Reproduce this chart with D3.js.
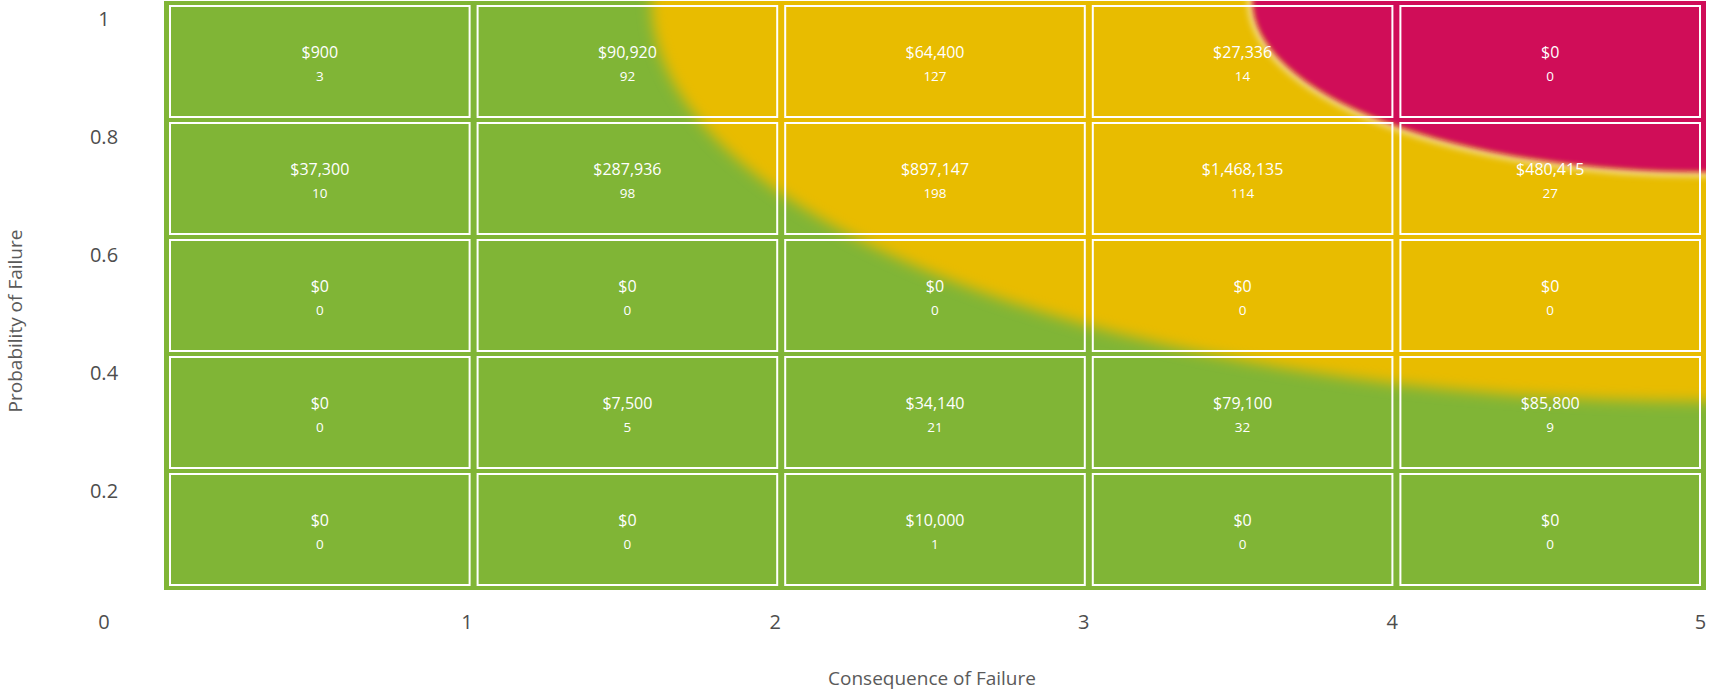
<!DOCTYPE html>
<html>
<head>
<meta charset="utf-8">
<script src="https://cdn.jsdelivr.net/npm/d3@7/dist/d3.min.js"></script>
<style>
  html, body { margin: 0; padding: 0; background: #ffffff; }
  svg { display: block; font-family: "Open Sans", "Noto Sans", sans-serif; }
</style>
</head>
<body>
<script>
// ---------------- DATA ----------------
const consequenceLevels = [1, 2, 3, 4, 5];
const probabilityLevels = [1.0, 0.8, 0.6, 0.4, 0.2];

// replacement cost per cell, rows follow probabilityLevels (top to bottom)
const costProb10 = [900, 90920, 64400, 27336, 0];
const costProb08 = [37300, 287936, 897147, 1468135, 480415];
const costProb06 = [0, 0, 0, 0, 0];
const costProb04 = [0, 7500, 34140, 79100, 85800];
const costProb02 = [0, 0, 10000, 0, 0];

// asset counts per cell
const countProb10 = [3, 92, 127, 14, 0];
const countProb08 = [10, 98, 198, 114, 27];
const countProb06 = [0, 0, 0, 0, 0];
const countProb04 = [0, 5, 21, 32, 9];
const countProb02 = [0, 0, 1, 0, 0];

// axis ticks
const xTickValues = [1, 2, 3, 4, 5];
const yTickValues = [0, 0.2, 0.4, 0.6, 0.8, 1];

// risk zones: elliptical bands anchored at (consequence 5, probability 1)
const zoneNames = ["Medium", "High"];
const zoneRadiusConsequence = [3.42, 1.47];
const zoneRadiusProbability = [0.68, 0.29];

const costRows = [costProb10, costProb08, costProb06, costProb04, costProb02];
const countRows = [countProb10, countProb08, countProb06, countProb04, countProb02];

// ---------------- CHART ----------------
const W = 1709, H = 691;
const colorLow = "#80b536";
const zoneColor = d3.scaleOrdinal().domain(zoneNames).range(["#e8bc00", "#d00d59"]);

const svg = d3.select("body").append("svg").attr("width", W).attr("height", H);

const x = d3.scaleLinear().domain([0, 5]).range([164, 1706]);
const y = d3.scaleLinear().domain([0, 1]).range([590, 1]);
const xBand = d3.scaleBand().domain(consequenceLevels).range([170, 1700]).paddingInner(0.026);
const yBand = d3.scaleBand().domain(probabilityLevels).range([6, 585]).paddingInner(0.0513);

const defs = svg.append("defs");
defs.append("clipPath").attr("id", "plotClip")
  .append("rect")
  .attr("x", x(0)).attr("y", y(1))
  .attr("width", x(5) - x(0)).attr("height", y(0) - y(1));

defs.append("filter").attr("id", "blurMedium")
  .attr("x", "-20%").attr("y", "-20%").attr("width", "140%").attr("height", "140%")
  .append("feGaussianBlur").attr("stdDeviation", 7);
defs.append("filter").attr("id", "blurHigh")
  .attr("x", "-20%").attr("y", "-20%").attr("width", "140%").attr("height", "140%")
  .append("feGaussianBlur").attr("stdDeviation", 2.5);
defs.append("filter").attr("id", "blurHalo")
  .attr("x", "-20%").attr("y", "-20%").attr("width", "140%").attr("height", "140%")
  .append("feGaussianBlur").attr("stdDeviation", 3);

// background
const bg = svg.append("g").attr("clip-path", "url(#plotClip)");
bg.append("rect")
  .attr("x", x(0)).attr("y", y(1))
  .attr("width", x(5) - x(0)).attr("height", y(0) - y(1))
  .attr("fill", colorLow);

const zones = zoneNames.map((n, i) => ({
  name: n, rx: zoneRadiusConsequence[i], ry: zoneRadiusProbability[i]
}));

zones.forEach((z) => {
  const cx = x(5), cy = y(1);
  const rx = x(5) - x(5 - z.rx), ry = y(1 - z.ry) - y(1);
  if (z.name === "High") {
    bg.append("ellipse")
      .attr("cx", cx).attr("cy", cy).attr("rx", rx + 2).attr("ry", ry + 2)
      .attr("fill", "none").attr("stroke", "#f4df9a").attr("stroke-width", 6)
      .attr("filter", "url(#blurHalo)");
  }
  bg.append("ellipse")
    .attr("cx", cx).attr("cy", cy).attr("rx", rx).attr("ry", ry)
    .attr("fill", zoneColor(z.name))
    .attr("filter", z.name === "High" ? "url(#blurHigh)" : "url(#blurMedium)");
});

// cells
const cells = [];
probabilityLevels.forEach((p, r) => {
  consequenceLevels.forEach((c, ci) => {
    cells.push({ p, c, cost: costRows[r][ci], count: countRows[r][ci] });
  });
});

const cellG = svg.append("g").selectAll("g").data(cells).join("g")
  .attr("transform", d => `translate(${xBand(d.c)},${yBand(d.p)})`);

cellG.append("rect")
  .attr("width", xBand.bandwidth()).attr("height", yBand.bandwidth())
  .attr("fill", "none").attr("stroke", "#ffffff").attr("stroke-width", 2);

const fmtCost = d3.format("$,.0f");
cellG.append("text")
  .attr("x", xBand.bandwidth() / 2)
  .attr("y", yBand.bandwidth() / 2 - 9.5)
  .attr("dy", "0.35em")
  .attr("text-anchor", "middle")
  .attr("fill", "#ffffff")
  .attr("font-size", 16)
  .attr("font-weight", 500)
  .text(d => fmtCost(d.cost));

cellG.append("text")
  .attr("x", xBand.bandwidth() / 2)
  .attr("y", yBand.bandwidth() / 2 + 14.5)
  .attr("dy", "0.35em")
  .attr("text-anchor", "middle")
  .attr("fill", "#ffffff")
  .attr("font-size", 13.5)
  .attr("font-weight", 500)
  .text(d => d.count);

// axes
const yAxis = d3.axisLeft(y).tickValues(yTickValues).tickSize(0).tickFormat(d3.format("~g"));
const gy = svg.append("g").attr("transform", "translate(104,18)").call(yAxis);
gy.select(".domain").remove();
gy.selectAll("text")
  .attr("x", 0).attr("text-anchor", "middle")
  .attr("font-size", 20).attr("fill", "#4d4d4d")
  .attr("font-family", "Open Sans, Noto Sans, sans-serif")
  .attr("dy", d => d === 0 ? "1.02em" : "0.34em");

const xAxis = d3.axisBottom(x).tickValues(xTickValues).tickSize(0).tickFormat(d3.format("d"));
const gx = svg.append("g").attr("transform", "translate(-6,622)").call(xAxis);
gx.select(".domain").remove();
gx.selectAll("text")
  .attr("y", 0).attr("dy", "0.34em")
  .attr("font-size", 20).attr("fill", "#4d4d4d")
  .attr("font-family", "Open Sans, Noto Sans, sans-serif");

// axis titles
svg.append("text")
  .attr("transform", "translate(15,321) rotate(-90)")
  .attr("text-anchor", "middle").attr("dy", "0.35em")
  .attr("font-size", 19).attr("fill", "#5a5a5a")
  .text("Probability of Failure");

svg.append("text")
  .attr("x", 932).attr("y", 678)
  .attr("text-anchor", "middle").attr("dy", "0.35em")
  .attr("font-size", 19).attr("fill", "#5a5a5a")
  .text("Consequence of Failure");
</script>
</body>
</html>
